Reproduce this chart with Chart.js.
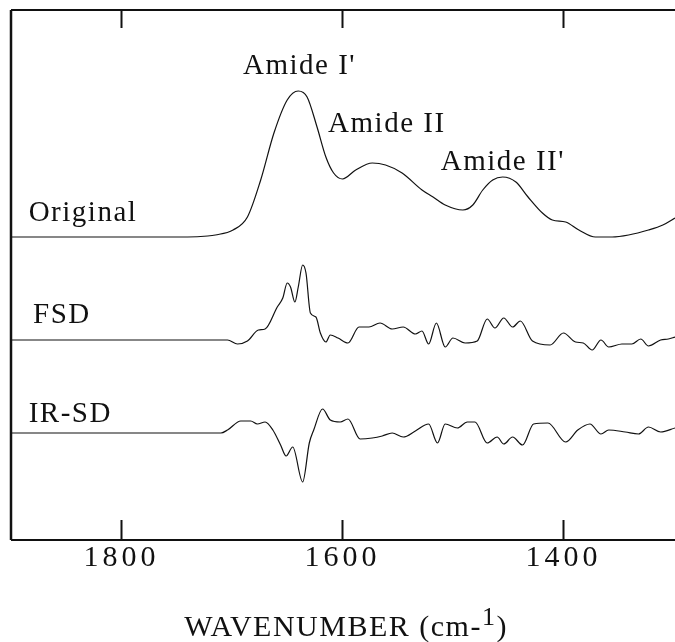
<!DOCTYPE html>
<html>
<head>
<meta charset="utf-8">
<title>Amide region spectra: Original, FSD, IR-SD</title>
<script src="https://cdn.jsdelivr.net/npm/chart.js@4.4.1/dist/chart.umd.min.js"></script>
<style>
  html, body { margin: 0; padding: 0; background: #fff; }
  canvas { display: block; }
</style>
</head>
<body>
<canvas id="spectra" width="675" height="642"></canvas>
<script>
(function () {
  "use strict";

  /* ---------- values ---------- */
  // wavenumber (cm-1) + height above the trace's own baseline
  const originalWn  = [1900, 1740, 1722, 1715, 1699, 1686, 1674, 1662, 1650, 1640, 1632, 1623, 1615, 1608, 1600, 1588, 1573, 1561, 1546, 1528, 1518, 1507, 1491, 1482, 1473, 1464, 1455, 1443, 1432, 1419, 1410, 1398, 1386, 1371, 1356, 1341, 1323, 1310, 1299];
  const originalAbs = [0, 0, 1, 2, 7, 20, 57, 104, 137, 146, 140, 110, 80, 64, 58, 67, 74, 72, 64, 47, 40, 32, 27, 32, 47, 57, 60, 55, 40, 24, 17, 15, 7, 0, 0, 2, 7, 12, 19];

  const fsdWn  = [1900, 1704, 1695, 1686, 1676, 1670, 1659, 1654, 1650, 1647, 1643, 1640, 1636, 1633, 1629, 1624, 1620, 1615, 1611, 1604, 1595, 1585, 1576, 1566, 1555, 1545, 1534, 1528, 1522, 1515, 1507, 1500, 1489, 1478, 1469, 1462, 1454, 1446, 1439, 1428, 1412, 1400, 1389, 1382, 1374, 1366, 1359, 1347, 1338, 1330, 1323, 1312, 1305, 1299];
  const fsdVal = [0, 0, -4, -1, 10, 11, 33, 42, 57, 53, 38, 53, 75, 67, 27, 23, 7, -2, 5, 2, -3, 13, 13, 17, 11, 13, 6, 9, -4, 17, -7, 2, -3, -1, 21, 12, 22, 13, 19, -1, -5, 7, -2, -3, -10, 0, -7, -4, -4, 1, -6, 0, 1, 3];

  const irsdWn  = [1900, 1710, 1704, 1692, 1683, 1677, 1670, 1663, 1656, 1651, 1645, 1636, 1630, 1626, 1618, 1611, 1602, 1595, 1584, 1573, 1564, 1555, 1545, 1534, 1522, 1514, 1507, 1496, 1487, 1480, 1469, 1460, 1454, 1446, 1437, 1427, 1414, 1398, 1387, 1376, 1366, 1359, 1344, 1332, 1323, 1312, 1299];
  const irsdVal = [0, 0, 3, 12, 12, 9, 11, 3, -12, -23, -14, -49, -10, 3, 24, 13, 11, 14, -6, -5, -3, 0, -4, 2, 9, -10, 9, 5, 11, 11, -10, -4, -11, -4, -12, 9, 10, -9, 3, 9, -1, 3, 1, -1, 6, 1, 5];

  const tickValues = [1800, 1600, 1400];

  /* ---------- stacking of the three traces ---------- */
  const ORIGINAL_BASE = 303;
  const FSD_BASE = 200;
  const IRSD_BASE = 107;

  const INK = "#111";
  const SERIF = "'Liberation Serif', 'Times New Roman', serif";

  const toPoints = (wn, vals, base) => wn.map((w, i) => ({ x: w, y: vals[i] + base }));

  function trace(label, wn, vals, base) {
    return {
      label: label,
      data: toPoints(wn, vals, base),
      borderColor: INK,
      borderWidth: 1.2,
      pointRadius: 0,
      fill: false,
      cubicInterpolationMode: "monotone",
    };
  }

  /* ---------- labels painted on the plot ---------- */
  const traceLabels = [
    { text: "Original", wn: 1884, y: 319 },
    { text: "FSD",      wn: 1880, y: 217 },
    { text: "IR-SD",    wn: 1884, y: 118 },
    { text: "Amide I'", wn: 1690, y: 466 },
    { text: "Amide II", wn: 1613, y: 408 },
    { text: "Amide II'", wn: 1511, y: 370 },
  ];

  const frameAndText = {
    id: "frameAndText",
    beforeDraw(chart) {
      chart.ctx.letterSpacing = "4px"; // spaced tick digits as in the scan
    },
    afterDraw(chart) {
      const { ctx, chartArea: a, scales: { x, y } } = chart;
      ctx.save();
      ctx.letterSpacing = "0px";
      ctx.strokeStyle = INK;
      ctx.lineCap = "butt";

      // frame (right side runs off the page)
      ctx.lineWidth = 2.5;
      ctx.beginPath();
      ctx.moveTo(a.left, a.top);
      ctx.lineTo(a.left, a.bottom);
      ctx.stroke();
      ctx.lineWidth = 2;
      ctx.beginPath();
      ctx.moveTo(a.left, a.top);
      ctx.lineTo(a.right, a.top);
      ctx.moveTo(a.left, a.bottom);
      ctx.lineTo(a.right, a.bottom);
      ctx.stroke();

      // inward ticks, top and bottom
      ctx.lineWidth = 2;
      ctx.beginPath();
      tickValues.forEach(v => {
        const px = Math.round(x.getPixelForValue(v)) + 0.5;
        ctx.moveTo(px, a.top);
        ctx.lineTo(px, a.top + 18);
        ctx.moveTo(px, a.bottom);
        ctx.lineTo(px, a.bottom - 20);
      });
      ctx.stroke();

      // trace / band labels
      ctx.fillStyle = INK;
      ctx.font = "29px " + SERIF;
      ctx.letterSpacing = "1.5px";
      ctx.textAlign = "left";
      ctx.textBaseline = "alphabetic";
      traceLabels.forEach(l => {
        ctx.fillText(l.text, x.getPixelForValue(l.wn), y.getPixelForValue(l.y));
      });

      // axis title with superscript
      const main = "WAVENUMBER (cm-";
      const sup = "1";
      const close = ")";
      ctx.font = "30px " + SERIF;
      const wMain = ctx.measureText(main).width;
      const wClose = ctx.measureText(close).width;
      ctx.font = "26px " + SERIF;
      const wSup = ctx.measureText(sup).width;
      const total = wMain + wSup + wClose;
      let tx = (a.left + a.right) / 2 + 3 - total / 2;
      const base = 636;
      ctx.font = "30px " + SERIF;
      ctx.fillText(main, tx, base);
      tx += wMain;
      ctx.font = "26px " + SERIF;
      ctx.fillText(sup, tx, base - 11);
      tx += wSup;
      ctx.font = "30px " + SERIF;
      ctx.fillText(close, tx, base);
      ctx.restore();
    },
  };

  Chart.defaults.font.family = SERIF;
  Chart.defaults.color = INK;

  new Chart(document.getElementById("spectra"), {
    type: "line",
    data: {
      datasets: [
        trace("Original", originalWn, originalAbs, ORIGINAL_BASE),
        trace("FSD", fsdWn, fsdVal, FSD_BASE),
        trace("IR-SD", irsdWn, irsdVal, IRSD_BASE),
      ],
    },
    options: {
      responsive: false,
      animation: false,
      devicePixelRatio: 1,
      layout: { padding: { left: 11, top: 10, right: 0, bottom: 66 } },
      plugins: { legend: { display: false }, tooltip: { enabled: false } },
      scales: {
        x: {
          type: "linear",
          reverse: true,
          min: 1299,
          max: 1900,
          afterBuildTicks: s => { s.ticks = tickValues.map(v => ({ value: v })); },
          grid: { display: false, drawTicks: false },
          border: { display: false },
          ticks: {
            font: { size: 30 },
            color: INK,
            padding: 0,
            maxRotation: 0,
            callback: v => String(v),
          },
        },
        y: { display: false, min: 0, max: 530 },
      },
    },
    plugins: [frameAndText],
  });
})();
</script>
</body>
</html>
